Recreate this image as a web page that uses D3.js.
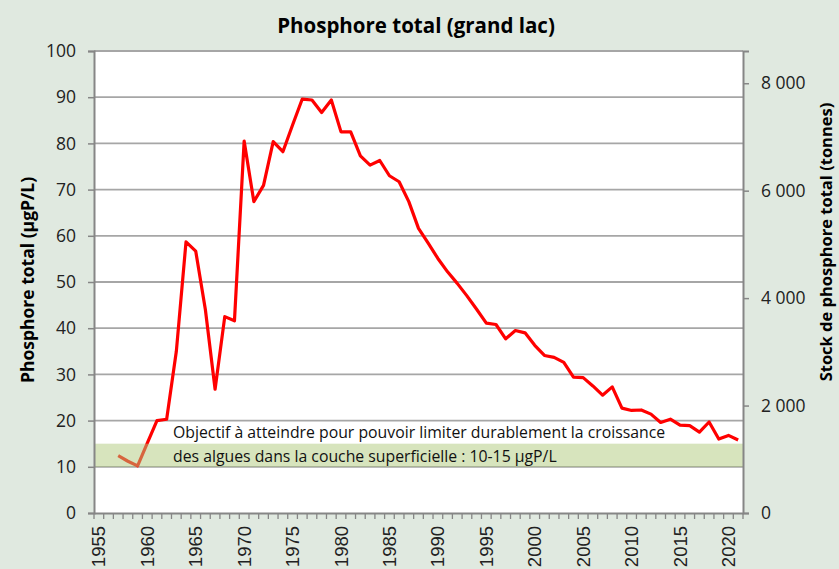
<!DOCTYPE html>
<html>
<head>
<meta charset="utf-8">
<script src="https://cdn.jsdelivr.net/npm/d3@7"></script>
<style>
  body { margin: 0; background: #e0e9e0; }
  svg { display: block; font-family: "Open Sans", sans-serif; }
</style>
</head>
<body>
<div id="canva"></div>
<script>
// data
var years = d3.range(1955, 2022);
var dataYears = [1957, 1958, 1959, 1960, 1961, 1962, 1963, 1964, 1965, 1966, 1967, 1968, 1969,
  1970, 1971, 1972, 1973, 1974, 1975, 1976, 1977, 1978, 1979, 1980, 1981, 1982, 1983, 1984,
  1985, 1986, 1987, 1988, 1989, 1990, 1991, 1992, 1993, 1994, 1995, 1996, 1997, 1998, 1999,
  2000, 2001, 2002, 2003, 2004, 2005, 2006, 2007, 2008, 2009, 2010, 2011, 2012, 2013, 2014,
  2015, 2016, 2017, 2018, 2019, 2020, 2021];
var phosphore = [12.4, 11.2, 10.2, 15.1, 20.0, 20.3, 35.0, 58.7, 56.7, 44.0, 26.8, 42.5, 41.6,
  80.5, 67.4, 70.9, 80.4, 78.2, 84.0, 89.6, 89.4, 86.7, 89.4, 82.5, 82.5, 77.3, 75.3, 76.3,
  73.0, 71.7, 67.4, 61.6, 58.4, 55.1, 52.2, 49.7, 47.0, 44.1, 41.1, 40.8, 37.7, 39.5, 39.0,
  36.3, 34.1, 33.7, 32.6, 29.4, 29.3, 27.5, 25.5, 27.3, 22.7, 22.2, 22.3, 21.4, 19.6, 20.3,
  19.0, 18.9, 17.5, 19.7, 16.0, 16.8, 15.8];
var leftTicks = [0, 10, 20, 30, 40, 50, 60, 70, 80, 90, 100];
var rightTicks = [0, 2000, 4000, 6000, 8000];
var labelYears = [1955, 1960, 1965, 1970, 1975, 1980, 1985, 1990, 1995, 2000, 2005, 2010, 2015, 2020];
var objectif = [10, 15];
var stockMax = 8600; // stock equivalent to 100 µgP/L

var margin = {top: 51, left: 94, right: 96, bottom: 56},
    W = 839, H = 569,
    width = W - margin.left - margin.right,
    height = H - margin.top - margin.bottom;

var svg = d3.select("#canva")
  .append("svg")
  .attr("width", W)
  .attr("height", H);

svg.append("rect")
  .attr("width", W).attr("height", H)
  .attr("fill", "#e0e9e0");

var g = svg.append("g")
  .attr("transform", "translate(" + margin.left + "," + margin.top + ")");

var x = d3.scaleBand().domain(years).range([0, width]);
var y = d3.scaleLinear().domain([0, 100]).range([height, 0]);
var y2 = d3.scaleLinear().domain([0, stockMax]).range([height, 0]);

var frFormat = d3.formatLocale({decimal: ",", thousands: "\u00a0", grouping: [3], currency: ["", ""]}).format(",d");

g.append("rect")
  .attr("width", width).attr("height", height)
  .attr("fill", "#fff");

// gridlines
g.selectAll(".grid")
  .data(leftTicks.slice(1))
  .enter()
  .append("line")
  .attr("class", "grid")
  .attr("x1", 0).attr("x2", width)
  .attr("y1", d => y(d)).attr("y2", d => y(d))
  .attr("stroke", "#a6a6a6")
  .attr("stroke-width", 1.8);

// line
var line = d3.line()
  .x((d, i) => x(dataYears[i]) + x.bandwidth() / 2)
  .y(d => y(d));

g.append("path")
  .datum(phosphore)
  .attr("d", line)
  .attr("fill", "none")
  .attr("stroke", "#ff0000")
  .attr("stroke-width", 3.2)
  .attr("stroke-linejoin", "round");

// objective band, drawn over the line
g.append("rect")
  .attr("x", 0).attr("width", width)
  .attr("y", y(objectif[1]))
  .attr("height", y(objectif[0]) - y(objectif[1]))
  .attr("fill", "rgb(176,202,124)")
  .attr("opacity", 0.5);

var note = g.append("text")
  .attr("x", 79)
  .attr("font-size", 15.8)
  .attr("fill", "#111");
note.append("tspan").attr("x", 79).attr("y", y(objectif[1]) - 6)
  .text("Objectif à atteindre pour pouvoir limiter durablement la croissance");
note.append("tspan").attr("x", 79).attr("y", y(objectif[1]) + 18)
  .text("des algues dans la couche superficielle : 10-15 µgP/L");

// axes
var axisColor = "#868686";

var yAxis = g.append("g")
  .call(d3.axisLeft(y).tickValues(leftTicks).tickSize(6).tickPadding(12));
var y2Axis = g.append("g")
  .attr("transform", "translate(" + width + ",0)")
  .call(d3.axisRight(y2).tickValues(rightTicks).tickSize(6).tickPadding(12).tickFormat(frFormat));
var xAxis = g.append("g")
  .attr("transform", "translate(0," + height + ")")
  .call(d3.axisBottom(x).tickValues([]).tickSize(0));

xAxis.selectAll(".yt")
  .data(years.concat([2022]))
  .enter()
  .append("line")
  .attr("x1", d => d === 2022 ? width : x(d))
  .attr("x2", d => d === 2022 ? width : x(d))
  .attr("y1", 0).attr("y2", 6)
  .attr("stroke", axisColor)
  .attr("stroke-width", 1.3);

xAxis.selectAll(".yl")
  .data(labelYears)
  .enter()
  .append("text")
  .attr("transform", d => "translate(" + (x(d) + x.bandwidth() / 2 + 6.5) + ",13) rotate(-90)")
  .attr("text-anchor", "end")
  .attr("font-size", 18.5)
  .attr("fill", "#222")
  .text(d => d);

[yAxis, y2Axis, xAxis].forEach(function(a) {
  a.select(".domain").attr("stroke", axisColor).attr("stroke-width", 2);
  a.selectAll(".tick line").attr("stroke", axisColor).attr("stroke-width", 1.5);
  a.selectAll(".tick text").attr("font-size", 17.5).attr("fill", "#222").attr("font-family", "Open Sans, sans-serif");
});
y2Axis.selectAll(".tick text").attr("dy", "0.32em");

// titles
svg.append("text")
  .attr("x", 416).attr("y", 33)
  .attr("text-anchor", "middle")
  .attr("font-size", 20.5)
  .attr("font-weight", "bold")
  .text("Phosphore total (grand lac)");

svg.append("text")
  .attr("transform", "translate(34,280) rotate(-90)")
  .attr("text-anchor", "middle")
  .attr("font-size", 17.5)
  .attr("font-weight", "bold")
  .text("Phosphore total (µgP/L)");

svg.append("text")
  .attr("transform", "translate(832,242) rotate(-90)")
  .attr("text-anchor", "middle")
  .attr("font-size", 16.5)
  .attr("font-weight", "bold")
  .text("Stock de phosphore total (tonnes)");
</script>
</body>
</html>
